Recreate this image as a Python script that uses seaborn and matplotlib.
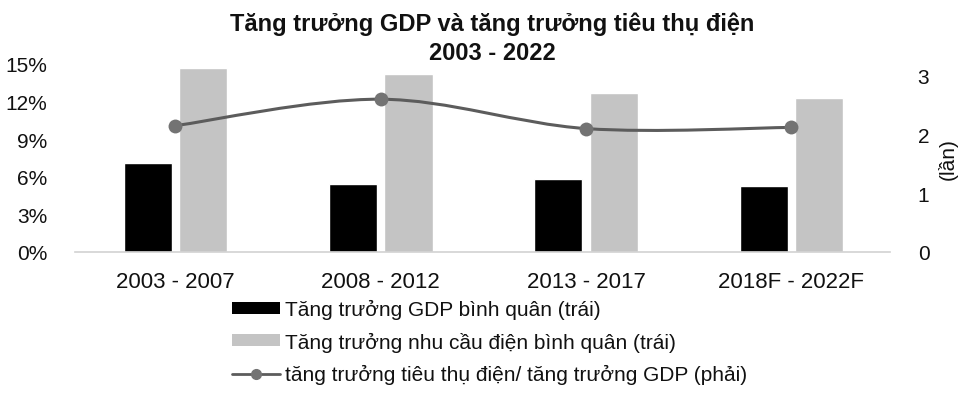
import numpy as np
import pandas as pd
import seaborn as sns
import matplotlib.pyplot as plt
from matplotlib.path import Path
from matplotlib.patches import PathPatch, Patch
from matplotlib.lines import Line2D

# Average growth per period (%) and the electricity/GDP growth ratio (times)
periods = ["2003 - 2007", "2008 - 2012", "2013 - 2017", "2018F - 2022F"]
gdp_growth = [7.1, 5.4, 5.8, 5.3]
power_growth = [14.7, 14.2, 12.7, 12.3]
ratio = [2.15, 2.6, 2.1, 2.12]

left_ticks = [0, 3, 6, 9, 12, 15]
right_ticks = [0, 1, 2, 3]
series_names = [
    "Tăng trưởng GDP bình quân (trái)",
    "Tăng trưởng nhu cầu điện bình quân (trái)",
    "tăng trưởng tiêu thụ điện/ tăng trưởng GDP (phải)",
]
title_lines = ["Tăng trưởng GDP và tăng trưởng tiêu thụ điện", "2003 - 2022"]

sns.set_theme(style="white")
plt.rcParams["font.family"] = ["Liberation Sans", "DejaVu Sans"]

BAR_BLACK = "#000000"
BAR_GREY = "#c4c4c4"
LINE_GREY = "#5c5c5c"
MARKER_GREY = "#737373"
TEXT = "#111111"
FS = 15

df = pd.DataFrame({
    "period": periods * 2,
    "value": gdp_growth + power_growth,
    "series": [series_names[0]] * len(periods) + [series_names[1]] * len(periods),
})

fig = plt.figure(figsize=(9.6, 4.06), dpi=100)
ax = fig.add_axes([0.078, 0.377, 0.849, 0.463])

sns.barplot(data=df, x="period", y="value", hue="series",
            palette=[BAR_BLACK, BAR_GREY], saturation=1, width=0.54, gap=0.13,
            errorbar=None, legend=False, ax=ax)

ax.set_xlim(-0.49, 3.48)
ax.set_ylim(0, 15)
ax.set_yticks(left_ticks)
ax.set_yticklabels([f"{t}%" for t in left_ticks], fontsize=FS, color=TEXT)
ax.set_xticks(range(len(periods)))
ax.set_xticklabels(periods, fontsize=16, color=TEXT)
ax.set_xlabel("")
ax.set_ylabel("")
ax.tick_params(axis="both", length=0)
ax.tick_params(axis="y", pad=20)
ax.tick_params(axis="x", pad=14)
for side in ("top", "left", "right"):
    ax.spines[side].set_visible(False)
ax.spines["bottom"].set_color("#d2d2d2")
ax.spines["bottom"].set_linewidth(1.2)

# Secondary axis: ratio line, smoothed with Catmull-Rom Bezier segments
ax2 = ax.twinx()
ax2.set_ylim(0, 3.2)
ax2.set_yticks(right_ticks)
ax2.set_yticklabels([str(t) for t in right_ticks], fontsize=FS, color=TEXT)
ax2.tick_params(axis="y", length=0, pad=20)
for side in ("top", "left", "right", "bottom"):
    ax2.spines[side].set_visible(False)
ax2.set_ylabel("(lần)", fontsize=FS, rotation=90, labelpad=6, color=TEXT)

xs = np.arange(len(periods), dtype=float)
pts = np.column_stack([xs, np.asarray(ratio, dtype=float)])
ext = np.vstack([pts[0], pts, pts[-1]])
verts = [tuple(pts[0])]
codes = [Path.MOVETO]
for i in range(len(pts) - 1):
    p0, p1, p2, p3 = ext[i], ext[i + 1], ext[i + 2], ext[i + 3]
    c1 = p1 + (p2 - p0) / 6.0
    c2 = p2 - (p3 - p1) / 6.0
    verts += [tuple(c1), tuple(c2), tuple(p2)]
    codes += [Path.CURVE4] * 3
ax2.add_patch(PathPatch(Path(verts, codes), facecolor="none",
                        edgecolor=LINE_GREY, linewidth=2.2, zorder=3))
sns.scatterplot(x=xs, y=ratio, ax=ax2, color=MARKER_GREY, s=100,
                edgecolor=MARKER_GREY, linewidth=0, zorder=4, legend=False)

# Title
fig.text(0.513, 1 - 24 / 406, title_lines[0], ha="center", va="center",
         fontsize=17, fontweight="bold", color=TEXT)
fig.text(0.513, 1 - 54 / 406, title_lines[1], ha="center", va="center",
         fontsize=17, fontweight="bold", color=TEXT)

# Legend below the chart
handles = [
    Patch(facecolor=BAR_BLACK, edgecolor="none"),
    Patch(facecolor=BAR_GREY, edgecolor="none"),
    Line2D([0], [0], color=LINE_GREY, linewidth=2, marker="o",
           markersize=7, markerfacecolor=MARKER_GREY, markeredgecolor=MARKER_GREY),
]
leg = fig.legend(handles, series_names, loc="upper left",
                 bbox_to_anchor=(232 / 960, 1 - 300 / 406), frameon=False,
                 fontsize=FS, handlelength=2.3, handleheight=0.5,
                 handletextpad=0.25, labelspacing=0.6, borderpad=0, borderaxespad=0)
for t in leg.get_texts():
    t.set_color(TEXT)

fig.savefig("out.png", dpi=100, facecolor="white")
